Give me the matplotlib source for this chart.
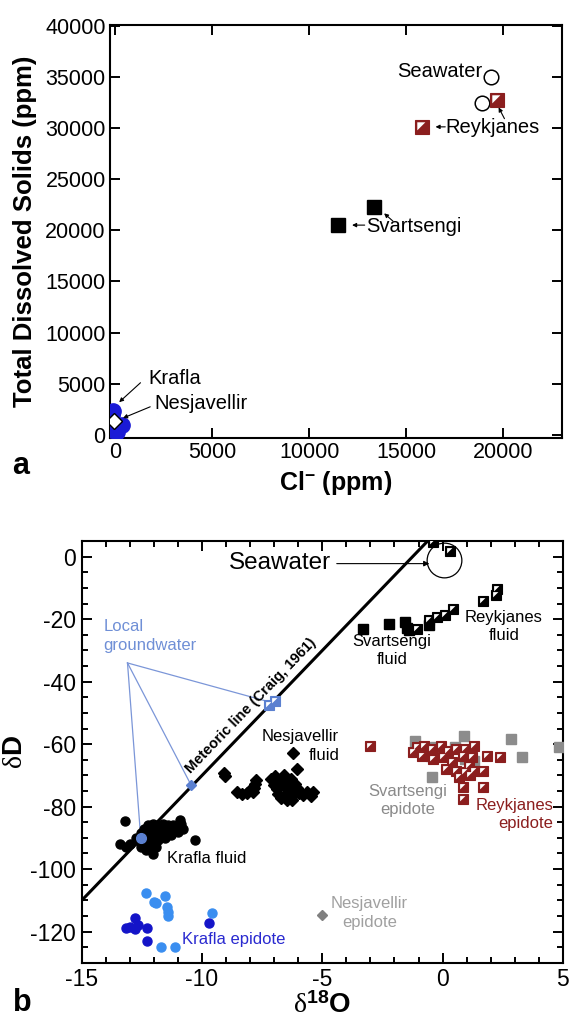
# TDS vs chloride and dD vs d18O for Icelandic geothermal fluids and epidote
import matplotlib
matplotlib.use('Agg')
import matplotlib.pyplot as plt
import numpy as np
from matplotlib.ticker import MultipleLocator

plt.rcParams['font.family'] = ['Liberation Sans', 'DejaVu Sans']
plt.rcParams['axes.unicode_minus'] = False
plt.rcParams['mathtext.fontset'] = 'custom'
plt.rcParams['mathtext.rm'] = 'Liberation Serif'
plt.rcParams['mathtext.bf'] = 'Liberation Sans:bold'
plt.rcParams['mathtext.it'] = 'Liberation Serif:italic'

DARKRED = '#8b1e1e'
GW_BLUE = '#5b80d0'

# ---- panel a : TDS (ppm) vs Cl (ppm)
sea_cl = [19350, 18900]
sea_tds = [35000, 32450]
rey_cl = [19650, 15800]
rey_tds = [32750, 30100]
svs_cl = [13350, 11500]
svs_tds = [22300, 20500]
kra_cl = [-100, -150, -150, 350, 100]
kra_tds = [2300, 1900, 500, 1000, 300]
nes_cl = [-80]
nes_tds = [1400]

# ---- panel b : dD vs d18O
# meteoric water line endpoints (Craig, 1961: dD = 8 d18O + 10)
mwl_x = [-15, -0.625]
mwl_y = [-110, 5]

kfl_x = [-13.2, -13.43, -13.15, -13.0, -12.74, -12.53, -12.42, -12.25, -12.04, -11.83,
         -11.63, -11.42, -11.21, -10.93, -10.86, -10.79, -11.0, -11.42, -11.83, -12.11,
         -12.25, -12.04, -11.83, -11.56, -11.28, -12.53, -12.32, -12.04, -12.6, -10.3,
         -12.4, -12.2, -11.95, -11.7, -11.5, -11.3, -12.1, -11.9, -12.35, -11.65]
kfl_y = [-84.7, -91.9, -92.9, -91.9, -90.0, -88.6, -87.1, -86.0, -85.5, -86.0,
         -85.5, -86.0, -86.0, -84.4, -85.5, -87.1, -88.2, -88.2, -88.2, -89.3,
         -90.8, -91.9, -90.8, -90.2, -89.1, -92.9, -94.0, -95.1, -91.3, -90.8,
         -89.5, -88.0, -87.3, -87.5, -87.0, -87.8, -92.5, -93.0, -91.5, -89.0]

nfl_x = [-9.1, -9.05, -8.55, -8.35, -8.15, -8.0, -7.85, -7.78, -7.75, -7.9,
         -7.15, -6.95, -6.8, -6.75, -6.9, -7.0, -6.6, -6.5, -6.4, -6.55,
         -6.7, -6.45, -6.3, -6.2, -6.05, -6.15, -6.3, -5.95, -5.8, -5.65,
         -5.45, -5.4, -6.05, -6.2, -6.6, -6.85, -6.25]
nfl_y = [-69.2, -70.3, -75.3, -75.9, -75.6, -74.8, -73.9, -72.6, -71.5, -75.2,
         -71.0, -70.2, -71.5, -73.0, -74.5, -73.2, -72.2, -73.8, -75.0, -76.3,
         -77.3, -78.0, -76.8, -75.3, -74.0, -72.6, -71.2, -75.5, -76.2, -75.2,
         -76.5, -75.3, -68.0, -62.7, -70.0, -76.0, -77.8]

sfl_x = [-3.32, -2.22, -1.55, -1.5, -1.4, -0.55]
sfl_y = [-23.1, -21.5, -21.0, -22.7, -23.6, -22.0]

rfl_x = [-1.05, -0.55, -0.25, 0.1, 0.45, 1.7, 2.2, 2.25, 0.3, -0.4]
rfl_y = [-23.1, -20.3, -19.2, -18.6, -16.6, -14.2, -12.3, -10.2, 1.7, 4.8]

sep_x = [-1.15, -0.45, -0.3, 0.5, 0.9, 0.92, 1.3, 2.85, 3.3, 4.85, -0.5]
sep_y = [-59.0, -70.6, -61.0, -61.0, -57.5, -64.8, -65.3, -58.4, -64.2, -61.0, -63.8]

rep_x = [-3.0, -1.23, -1.08, -0.77, -0.46, -0.08, 0.23, 0.54, 0.92, 1.31,
         -0.85, -0.38, 0.0, 0.38, 0.85, 1.23, 0.15, 0.54, 0.92, 1.31,
         1.08, 1.69, 1.85, 2.38, 0.85, 1.69, 0.85, 0.69, 1.15]
rep_y = [-60.5, -62.6, -61.0, -60.5, -61.6, -60.7, -62.1, -61.4, -61.6, -60.7,
         -63.7, -64.8, -64.2, -65.8, -63.7, -64.2, -67.9, -68.5, -69.0, -68.5,
         -66.9, -68.5, -63.7, -64.2, -73.8, -73.8, -77.5, -70.6, -70.0]

kep_light_x = [-12.35, -12.0, -11.9, -11.55, -11.45, -11.42, -11.42, -9.6, -11.72, -11.12]
kep_light_y = [-107.8, -110.4, -111.0, -108.5, -112.1, -113.6, -115.0, -114.2, -124.8, -124.8]
kep_dark_x = [-13.0, -12.8, -12.65, -12.3, -12.8, -12.3, -13.15, -9.72]
kep_dark_y = [-118.6, -115.8, -117.9, -119.0, -119.2, -122.9, -119.0, -117.1]

nep_x = [-5.0]
nep_y = [-114.6]

gw_x = [-12.55, -10.45, -7.05]
gw_y = [-90.0, -73.2, -46.8]
gw_label_x = -13.1
gw_label_y = -34.0

sw_x = [0.05]
sw_y = [-1.1]

# white corner triangle drawn over a filled square -> half-filled square symbol
tri = [(-1, 1), (0.55, 1), (-1, -0.55), (-1, 1)]


def half_squares(ax, x, y, color, ms, zorder=3):
    ax.plot(x, y, 's', ms=ms, mfc=color, mec=color, mew=0.8, ls='none',
            zorder=zorder)
    ax.plot(x, y, marker=tri, ms=ms * 0.75, mfc='white', mec='none', ls='none',
            zorder=zorder + 0.1)


fig = plt.figure(figsize=(5.72, 10.21), dpi=100)

# ================= panel a
ax1 = fig.add_axes([0.192, 0.571, 0.790, 0.405])
ax1.set_xlim(-280, 23000)
ax1.set_ylim(-300, 40100)
ax1.xaxis.set_major_locator(MultipleLocator(5000))
ax1.yaxis.set_major_locator(MultipleLocator(5000))
ax1.tick_params(direction='in', top=True, right=True, length=7, width=1.4,
                labelsize=15.5, pad=3)
for s in ax1.spines.values():
    s.set_linewidth(1.5)

ax1.plot(kra_cl, kra_tds, 'o', ms=11, color='#1a1ad6', ls='none', zorder=3)
ax1.plot(nes_cl, nes_tds, 'D', ms=8, mfc='white', mec='black', mew=1.0,
         ls='none', zorder=4)
ax1.plot(sea_cl, sea_tds, 'o', ms=10.5, mfc='white', mec='black', mew=1.1,
         ls='none', zorder=3)
half_squares(ax1, rey_cl, rey_tds, DARKRED, 10)
ax1.plot(svs_cl, svs_tds, 's', ms=10, color='black', ls='none', zorder=3)

arr = dict(arrowstyle='-|>', color='black', lw=0.8, mutation_scale=6,
           shrinkA=0, shrinkB=0)
ax1.text(18900, 35500, 'Seawater', fontsize=14.5, ha='right', va='center')
ax1.text(17000, 30000, 'Reykjanes', fontsize=14.5, ha='left', va='center')
ax1.annotate('', xy=(16500, 30100), xytext=(17000, 30100), arrowprops=arr)
ax1.annotate('', xy=(19750, 32000), xytext=(20050, 30900), arrowprops=arr)
ax1.text(12900, 20400, 'Svartsengi', fontsize=14.5, ha='left', va='center')
ax1.annotate('', xy=(12200, 20500), xytext=(12850, 20500), arrowprops=arr)
ax1.annotate('', xy=(13850, 21650), xytext=(14300, 20900), arrowprops=arr)
ax1.text(1700, 5500, 'Krafla', fontsize=14.5, ha='left', va='center')
ax1.annotate('', xy=(200, 3200), xytext=(1300, 5100), arrowprops=arr)
ax1.text(2000, 3100, 'Nesjavellir', fontsize=14.5, ha='left', va='center')
ax1.annotate('', xy=(400, 1650), xytext=(1800, 2750), arrowprops=arr)

ax1.set_xlabel('Cl$^{\\mathbf{-}}$ (ppm)', fontsize=18, fontweight='bold',
               labelpad=4)
ax1.set_ylabel('Total Dissolved Solids (ppm)', fontsize=18.5,
               fontweight='bold', labelpad=6)
fig.text(0.022, 0.536, 'a', fontsize=22, fontweight='bold')

# ================= panel b
ax2 = fig.add_axes([0.143, 0.057, 0.841, 0.413])
ax2.set_xlim(-15, 5)
ax2.set_ylim(-130, 5)
ax2.xaxis.set_major_locator(MultipleLocator(5))
ax2.xaxis.set_minor_locator(MultipleLocator(1))
ax2.yaxis.set_major_locator(MultipleLocator(20))
ax2.yaxis.set_minor_locator(MultipleLocator(5))
ax2.tick_params(which='both', direction='in', top=True, right=True, width=1.4)
ax2.tick_params(which='major', length=7, labelsize=16.5, pad=4)
ax2.tick_params(which='minor', length=4)
for s in ax2.spines.values():
    s.set_linewidth(1.5)

ax2.plot(mwl_x, mwl_y, color='black', lw=2.2, zorder=2)
ang = ax2.transData.transform_angles(np.array([np.degrees(np.arctan(8))]),
                                     np.array([[-10.2, -71.6]]))[0]
ax2.annotate('Meteoric line (Craig, 1961)', xy=(-10.2, 8 * -10.2 + 10),
             xytext=(-3, 3), textcoords='offset points', rotation=ang,
             rotation_mode='anchor', ha='left', va='bottom', fontsize=10.5,
             fontweight='bold')

# groundwater leader lines
for gx, gy in zip(gw_x, gw_y):
    ax2.plot([gw_label_x, gx], [gw_label_y, gy], color='#7b96d8', lw=0.9,
             zorder=2)

ax2.plot(kfl_x, kfl_y, 'o', ms=6.5, color='black', ls='none', zorder=3)
ax2.plot(nfl_x, nfl_y, 'D', ms=6, color='black', ls='none', zorder=3)
ax2.plot(sfl_x, sfl_y, 's', ms=6.5, color='black', ls='none', zorder=3)
half_squares(ax2, rfl_x, rfl_y, 'black', 6.5)
ax2.plot(sep_x, sep_y, 's', ms=6.5, color='#8c8c8c', ls='none', zorder=3)
half_squares(ax2, rep_x, rep_y, DARKRED, 6.5, zorder=4)
ax2.plot(kep_light_x, kep_light_y, 'o', ms=6.5, color='#3a8ef0', ls='none',
         zorder=3)
ax2.plot(kep_dark_x, kep_dark_y, 'o', ms=6.5, color='#1414c8', ls='none',
         zorder=3)
ax2.plot(nep_x, nep_y, 'D', ms=5, color='#808080', ls='none', zorder=3)

ax2.plot(gw_x[0], gw_y[0], 'o', ms=7, color=GW_BLUE, ls='none', zorder=5)
ax2.plot(gw_x[1], gw_y[1], 'D', ms=5, color=GW_BLUE, ls='none', zorder=5)
half_squares(ax2, [gw_x[2] - 0.15, gw_x[2] + 0.1], [gw_y[2] - 0.6, gw_y[2] + 0.6],
             GW_BLUE, 6.5, zorder=5)

ax2.plot(sw_x, sw_y, 'o', ms=25, mfc='none', mec='black', mew=0.9, ls='none',
         zorder=3, clip_on=False)
ax2.annotate('', xy=(-0.55, -2.2), xytext=(-4.4, -2.2),
             arrowprops=dict(arrowstyle='-|>', color='black', lw=0.8,
                             mutation_scale=8, shrinkA=0, shrinkB=0))
ax2.text(-4.65, -2.0, 'Seawater', fontsize=17.5, ha='right', va='center')

ax2.text(2.55, -22.3, 'Reykjanes\nfluid', fontsize=12, ha='center',
         va='center', linespacing=1.3)
ax2.text(-2.1, -30.0, 'Svartsengi\nfluid', fontsize=12, ha='center',
         va='center', linespacing=1.3)
ax2.text(-4.3, -60.5, 'Nesjavellir\nfluid', fontsize=12, ha='right',
         va='center', multialignment='right', linespacing=1.3)
ax2.text(-11.45, -96.6, 'Krafla fluid', fontsize=12, ha='left', va='center')
ax2.text(-1.45, -78.0, 'Svartsengi\nepidote', fontsize=12, ha='center',
         va='center', color='#8a8a8a', linespacing=1.3)
ax2.text(4.6, -82.5, 'Reykjanes\nepidote', fontsize=12, ha='right',
         va='center', multialignment='right', color=DARKRED, linespacing=1.3)
ax2.text(-3.05, -114.0, 'Nesjavellir\nepidote', fontsize=12, ha='center',
         va='center', color='#a0a0a0', linespacing=1.3)
ax2.text(-10.85, -122.6, 'Krafla epidote', fontsize=12, ha='left',
         va='center', color='#2a2ad0')
ax2.text(-14.1, -25.4, 'Local\ngroundwater', fontsize=12, ha='left',
         va='center', color='#6f8fd6', linespacing=1.3)

ax2.set_xlabel('$\\mathrm{\\delta}^{\\mathbf{18}}\\mathbf{O}$', fontsize=20,
               labelpad=1)
ax2.set_ylabel('$\\mathrm{\\delta}\\mathbf{D}$', fontsize=20, labelpad=2)
fig.text(0.022, 0.01, 'b', fontsize=22, fontweight='bold')

fig.savefig('out.png', dpi=100)
